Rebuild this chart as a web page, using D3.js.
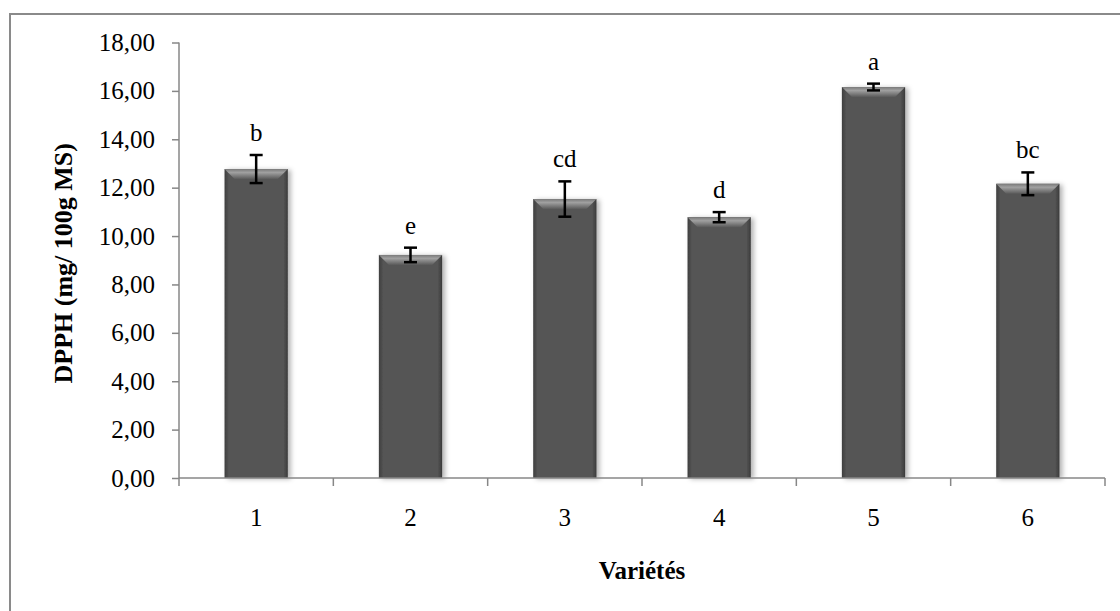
<!DOCTYPE html>
<html>
<head>
<meta charset="utf-8">
<script src="https://cdn.jsdelivr.net/npm/d3@7/dist/d3.min.js"></script>
<style>
  html, body { margin: 0; padding: 0; background: #fff; }
  svg { display: block; }
  text { font-family: "Liberation Serif", "Times New Roman", serif; fill: #000; }
</style>
</head>
<body>
<svg id="chart" width="1120" height="611"></svg>
<script>
// data
const categories = ['1', '2', '3', '4', '5', '6'];
const values = [12.77, 9.22, 11.53, 10.78, 16.16, 12.16];
const errors = [0.58, 0.30, 0.73, 0.21, 0.14, 0.47];
const letters = ['b', 'e', 'cd', 'd', 'a', 'bc'];
const yTicks = [0, 2, 4, 6, 8, 10, 12, 14, 16, 18];
const yTitle = 'DPPH (mg/ 100g MS)';
const xTitle = 'Variétés';

const width = 1120, height = 611;
const margin = {top: 42.5, right: 15, bottom: 133, left: 179};
const axisColor = '#878787';

const svg = d3.select('#chart');

// outer frame (right and bottom edges sit outside the picture)
svg.append('rect')
    .attr('x', 10).attr('y', 14)
    .attr('width', width + 20).attr('height', height + 20)
    .attr('fill', 'none')
    .attr('stroke', '#8a8a8a')
    .attr('stroke-width', 2);

const x = d3.scaleBand()
    .domain(categories)
    .range([margin.left, width - margin.right])
    .paddingInner(0.59)
    .paddingOuter(0.295);

const y = d3.scaleLinear()
    .domain([0, 18])
    .range([height - margin.bottom, margin.top]);

const fmt = d => d3.format('.2f')(d).replace('.', ',');

// defs: bar gradients + shadow
const defs = svg.append('defs');
const side = defs.append('linearGradient').attr('id', 'side')
    .attr('x1', 0).attr('x2', 1).attr('y1', 0).attr('y2', 0);
side.append('stop').attr('offset', '0%').attr('stop-color', '#3e3e3e');
side.append('stop').attr('offset', '7%').attr('stop-color', '#555');
side.append('stop').attr('offset', '93%').attr('stop-color', '#555');
side.append('stop').attr('offset', '100%').attr('stop-color', '#3a3a3a');
const bevel = defs.append('linearGradient').attr('id', 'bevel')
    .attr('x1', 0).attr('x2', 0).attr('y1', 0).attr('y2', 1);
bevel.append('stop').attr('offset', '0%').attr('stop-color', '#7a7a7a');
bevel.append('stop').attr('offset', '35%').attr('stop-color', '#a0a0a0');
bevel.append('stop').attr('offset', '100%').attr('stop-color', '#5a5a5a');
const shadow = defs.append('filter').attr('id', 'shadow')
    .attr('x', '-20%').attr('y', '-10%').attr('width', '150%').attr('height', '130%');
shadow.append('feDropShadow')
    .attr('dx', 3).attr('dy', 1).attr('stdDeviation', 2.5)
    .attr('flood-color', '#000').attr('flood-opacity', 0.3);

// y axis
const yAxis = svg.append('g')
    .attr('transform', 'translate(' + margin.left + ',0)')
    .call(d3.axisLeft(y).tickValues(yTicks).tickFormat(fmt).tickSize(7).tickPadding(17));
yAxis.select('.domain').attr('stroke', axisColor).attr('stroke-width', 1.5)
    .attr('d', 'M0,' + y(18) + 'V' + y(0));
yAxis.selectAll('.tick line').attr('stroke', axisColor).attr('stroke-width', 1.5);
yAxis.selectAll('.tick text')
    .style('font-family', '"Liberation Serif", serif')
    .style('font-size', '25px')
    .attr('fill', '#000');

// bars
const rows = categories.map((c, i) => ({cat: c, v: values[i], e: errors[i], l: letters[i]}));
const bw = x.bandwidth();
const bev = 10;

const bar = svg.append('g').selectAll('g')
    .data(rows)
    .enter().append('g')
    .attr('transform', d => 'translate(' + x(d.cat) + ',' + y(d.v) + ')');

bar.append('rect')
    .attr('width', bw)
    .attr('height', d => y(0) - y(d.v))
    .attr('fill', 'url(#side)')
    .attr('filter', 'url(#shadow)');

bar.append('path')
    .attr('d', 'M0,0H' + bw + 'L' + (bw - bev) + ',' + bev + 'H' + bev + 'Z')
    .attr('fill', 'url(#bevel)');

// x axis, ticks sit between categories
const xAxisG = svg.append('g');
xAxisG.append('line')
    .attr('x1', margin.left).attr('x2', width - margin.right)
    .attr('y1', y(0)).attr('y2', y(0))
    .attr('stroke', axisColor).attr('stroke-width', 1.5);
const bounds = d3.range(categories.length + 1).map(i => margin.left + i * x.step());
xAxisG.selectAll('.xt')
    .data(bounds)
    .enter().append('line')
    .attr('class', 'xt')
    .attr('x1', d => d).attr('x2', d => d)
    .attr('y1', y(0)).attr('y2', y(0) + 8)
    .attr('stroke', axisColor).attr('stroke-width', 1.5);
xAxisG.selectAll('.xl')
    .data(categories)
    .enter().append('text')
    .attr('class', 'xl')
    .attr('x', d => x(d) + bw / 2)
    .attr('y', y(0) + 48)
    .attr('text-anchor', 'middle')
    .style('font-size', '25px')
    .text(d => d);

// error bars
const err = svg.append('g').selectAll('g')
    .data(rows)
    .enter().append('g')
    .attr('stroke', '#000')
    .attr('stroke-width', 2.5);
err.append('line')
    .attr('x1', d => x(d.cat) + bw / 2).attr('x2', d => x(d.cat) + bw / 2)
    .attr('y1', d => y(d.v + d.e)).attr('y2', d => y(d.v - d.e));
err.append('line')
    .attr('x1', d => x(d.cat) + bw / 2 - 6.5).attr('x2', d => x(d.cat) + bw / 2 + 6.5)
    .attr('y1', d => y(d.v + d.e)).attr('y2', d => y(d.v + d.e));
err.append('line')
    .attr('x1', d => x(d.cat) + bw / 2 - 6.5).attr('x2', d => x(d.cat) + bw / 2 + 6.5)
    .attr('y1', d => y(d.v - d.e)).attr('y2', d => y(d.v - d.e));

// significance letters
svg.append('g').selectAll('text')
    .data(rows)
    .enter().append('text')
    .attr('x', d => x(d.cat) + bw / 2)
    .attr('y', d => y(d.v + d.e) - 14)
    .attr('text-anchor', 'middle')
    .style('font-size', '25px')
    .text(d => d.l);

// axis titles
svg.append('text')
    .attr('transform', 'translate(72,' + (y(9) + 3) + ')rotate(-90)')
    .attr('text-anchor', 'middle')
    .style('font-size', '26px')
    .style('font-weight', 'bold')
    .text(yTitle);

svg.append('text')
    .attr('x', (margin.left + width - margin.right) / 2)
    .attr('y', 579)
    .attr('text-anchor', 'middle')
    .style('font-size', '25px')
    .style('font-weight', 'bold')
    .text(xTitle);
</script>
</body>
</html>
